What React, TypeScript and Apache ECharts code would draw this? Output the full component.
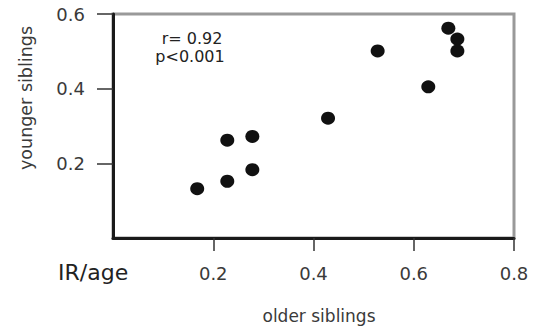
import React, { useEffect, useRef } from "react";
import * as echarts from "echarts";

const olderSiblings = [0.168, 0.228, 0.228, 0.278, 0.278, 0.429, 0.528, 0.629, 0.669, 0.687, 0.687];
const youngerSiblings = [0.132, 0.152, 0.262, 0.272, 0.183, 0.321, 0.501, 0.405, 0.562, 0.533, 0.501];
const xTicks = [0.2, 0.4, 0.6, 0.8];
const yTicks = [0.2, 0.4, 0.6];
const statLines = ["r= 0.92", "p<0.001"];
const xTitle = "older siblings";
const yTitle = "younger siblings";
const measureLabel = "IR/age";

const FONT = "DejaVu Sans";

export default function App() {
  const ref = useRef<HTMLDivElement>(null);
  useEffect(() => {
    if (!ref.current) return;
    const chart = echarts.init(ref.current, null, { renderer: "svg" });
    const points = olderSiblings.map((x, i) => [x, youngerSiblings[i]]);
    chart.setOption({
      animation: false,
      backgroundColor: "#fff",
      grid: {
        left: 113,
        right: 20,
        top: 14,
        bottom: 92,
        show: true,
        borderColor: "#999",
        borderWidth: 3,
        backgroundColor: "transparent",
      },
      xAxis: {
        type: "value",
        min: 0,
        max: 0.8,
        interval: 0.2,
        splitLine: { show: false },
        axisLine: { show: true, lineStyle: { color: "#1a1a1a", width: 3 } },
        axisTick: {
          show: true,
          length: 13,
          customValues: xTicks,
          lineStyle: { color: "#333", width: 1.5 },
        },
        axisLabel: {
          customValues: xTicks,
          margin: 26,
          fontFamily: FONT,
          fontSize: 18,
          color: "#3a3a3a",
          formatter: (v: number) => v.toFixed(1),
        },
      },
      yAxis: {
        type: "value",
        min: 0,
        max: 0.6,
        interval: 0.2,
        splitLine: { show: false },
        axisLine: { show: true, lineStyle: { color: "#1a1a1a", width: 3 } },
        axisTick: {
          show: true,
          length: 16,
          customValues: yTicks,
          lineStyle: { color: "#333", width: 1.5 },
        },
        axisLabel: {
          customValues: yTicks,
          margin: 28,
          fontFamily: FONT,
          fontSize: 18,
          color: "#3a3a3a",
          formatter: (v: number) => v.toFixed(1),
        },
      },
      graphic: [
        {
          type: "text",
          x: 26,
          y: 98,
          rotation: Math.PI / 2,
          style: {
            text: yTitle,
            fontFamily: FONT,
            fontSize: 17.5,
            fill: "#3a3a3a",
            align: "center",
            verticalAlign: "middle",
          },
        },
        {
          type: "text",
          x: 319,
          y: 316,
          style: {
            text: xTitle,
            fontFamily: FONT,
            fontSize: 17,
            fill: "#3a3a3a",
            align: "center",
            verticalAlign: "middle",
          },
        },
        {
          type: "text",
          x: 58,
          y: 272,
          style: {
            text: measureLabel,
            fontFamily: FONT,
            fontSize: 22,
            fill: "#222",
            align: "left",
            verticalAlign: "middle",
          },
        },
        {
          type: "text",
          x: 192,
          y: 38,
          style: {
            text: statLines[0],
            fontFamily: FONT,
            fontSize: 16,
            fill: "#222",
            align: "center",
            verticalAlign: "middle",
          },
        },
        {
          type: "text",
          x: 190,
          y: 56,
          style: {
            text: statLines[1],
            fontFamily: FONT,
            fontSize: 16,
            fill: "#222",
            align: "center",
            verticalAlign: "middle",
          },
        },
      ],
      series: [
        {
          type: "scatter",
          data: points,
          symbol: "circle",
          symbolSize: [14, 13],
          itemStyle: { color: "#111", opacity: 1 },
        },
      ],
    });
    return () => chart.dispose();
  }, []);
  return <div ref={ref} style={{ width: 534, height: 330, position: "absolute", left: 0, top: 0 }} />;
}
